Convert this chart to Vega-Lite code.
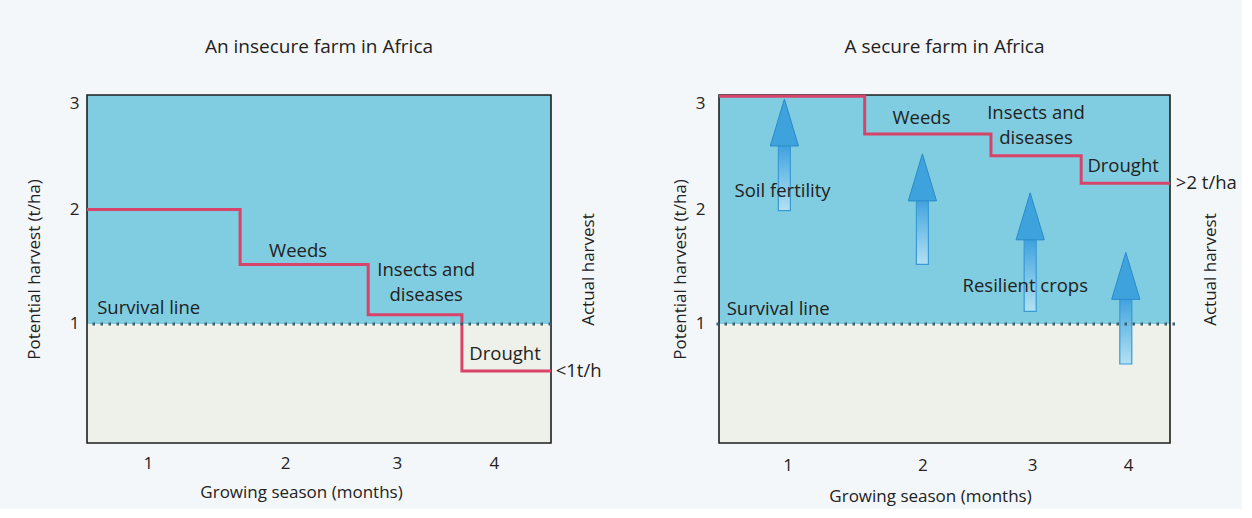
{
  "$schema": "https://vega.github.io/schema/vega-lite/v6.json",
  "background": "#f4f7f9",
  "padding": {"left": 25, "top": 38, "right": 5, "bottom": 5},
  "config": {
    "view": {"stroke": null},
    "font": "Open Sans",
    "axis": {"labelFont": "Open Sans", "titleFont": "Open Sans", "labelColor": "#222", "titleColor": "#222", "titleFontWeight": "normal", "grid": false, "ticks": false, "domain": false},
    "title": {"font": "Open Sans", "fontSize": 19, "fontWeight": "normal", "color": "#222", "baseline": "bottom", "offset": 37, "anchor": "middle", "frame": "group"}
  },
  "datasets": {
    "zones": [
      {"x0": 0, "x1": 100, "y0": 1, "y1": 3, "zone": "above"},
      {"x0": 0, "x1": 100, "y0": -0.04, "y1": 1, "zone": "below"}
    ],
    "frame": [{"x0": 0, "x1": 100, "y0": -0.04, "y1": 3}],
    "survival": [{"y": 1}],
    "stepLeft": [
      {"x": 0, "y": 2.0},
      {"x": 33.0, "y": 1.52},
      {"x": 60.6, "y": 1.08},
      {"x": 80.8, "y": 0.59},
      {"x": 100, "y": 0.59}
    ],
    "stepRight": [
      {"x": 0, "y": 2.99},
      {"x": 32.3, "y": 2.66},
      {"x": 60.3, "y": 2.47},
      {"x": 80.3, "y": 2.23},
      {"x": 100, "y": 2.23}
    ],
    "notesLeft": [
      {"x": 45.5, "y": 1.64, "label": "Weeds"},
      {"x": 73.1, "y": 1.47, "label": "Insects and\ndiseases"},
      {"x": 90.1, "y": 0.74, "label": "Drought"}
    ],
    "edgeLeft": [
      {"x": 2.2, "y": 1.14, "label": "Survival line"},
      {"x": 101, "y": 0.59, "label": "<1t/h"}
    ],
    "notesRight": [
      {"x": 44.9, "y": 2.8, "label": "Weeds"},
      {"x": 70.3, "y": 2.84, "label": "Insects and\ndiseases"},
      {"x": 89.6, "y": 2.38, "label": "Drought"},
      {"x": 14.1, "y": 2.16, "label": "Soil fertility"},
      {"x": 67.9, "y": 1.33, "label": "Resilient crops"}
    ],
    "edgeRight": [
      {"x": 1.7, "y": 1.13, "label": "Survival line"},
      {"x": 101.3, "y": 2.23, "label": ">2 t/ha"}
    ],
    "arrows": [
      {"cx": 14.5, "lo": 1.99, "hi": 2.58, "head": 2.76},
      {"cx": 45.1, "lo": 1.52, "hi": 2.11, "head": 2.28},
      {"cx": 69.0, "lo": 1.11, "hi": 1.76, "head": 1.94},
      {"cx": 90.2, "lo": 0.65, "hi": 1.25, "head": 1.42}
    ]
  },
  "hconcat": [
    {
      "width": 464,
      "height": 348,
      "title": {"text": "An insecure farm in Africa"},
      "resolve": {"axis": {"y": "independent"}},
      "layer": [
        {
          "data": {"name": "zones"},
          "mark": {"type": "rect"},
          "encoding": {
            "x": {"field": "x0", "type": "quantitative", "scale": {"domain": [0, 100], "nice": false, "zero": false},
              "axis": {"values": [13.1, 42.7, 66.8, 87.7], "labelExpr": "datum.value < 25 ? '1' : datum.value < 55 ? '2' : datum.value < 78 ? '3' : '4'", "labelFontSize": 17, "labelPadding": 12, "title": "Growing season (months)", "titleFontSize": 17, "titlePadding": 13, "titleX": 214}},
            "x2": {"field": "x1"},
            "y": {"field": "y0", "type": "quantitative", "scale": {"domain": [-0.04, 3], "nice": false, "zero": false},
              "axis": {"values": [1, 2, 3], "labelFontSize": 17, "labelPadding": 8, "labelFlush": true, "title": "Potential harvest (t/ha)", "titleFontSize": 17, "titlePadding": 26}},
            "y2": {"field": "y1"},
            "fill": {"field": "zone", "type": "nominal", "scale": {"domain": ["above", "below"], "range": ["#80cce0", "#eef1ea"]}, "legend": null}
          }
        },
        {
          "data": {"name": "frame"},
          "mark": {"type": "rect", "fill": null, "fillOpacity": 0, "stroke": "#1e1e1e", "strokeWidth": 1.6},
          "encoding": {
            "x": {"field": "x0", "type": "quantitative"},
            "x2": {"field": "x1"},
            "y": {"field": "y0", "type": "quantitative", "axis": null},
            "y2": {"field": "y1"}
          }
        },
        {
          "data": {"name": "stepLeft"},
          "mark": {"type": "line", "interpolate": "step-after", "color": "#d8436a", "strokeWidth": 3},
          "encoding": {
            "x": {"field": "x", "type": "quantitative"},
            "y": {"field": "y", "type": "quantitative", "axis": null}
          }
        },
        {
          "data": {"name": "survival"},
          "mark": {"type": "rule", "strokeDash": [2.5, 5.5], "strokeWidth": 3, "color": "#3d5e6e"},
          "encoding": {
            "y": {"field": "y", "type": "quantitative", "axis": {"orient": "right", "labels": false, "title": "Actual harvest", "titleFontSize": 17, "titleAngle": 270, "titleBaseline": "middle", "titlePadding": 37}}
          }
        },
        {
          "data": {"name": "notesLeft"},
          "mark": {"type": "text", "fontSize": 18.5, "color": "#222", "align": "center", "baseline": "middle", "lineBreak": "\n", "lineHeight": 25},
          "encoding": {
            "x": {"field": "x", "type": "quantitative"},
            "y": {"field": "y", "type": "quantitative", "axis": null},
            "text": {"field": "label"}
          }
        },
        {
          "data": {"name": "edgeLeft"},
          "mark": {"type": "text", "fontSize": 18.5, "color": "#222", "align": "left", "baseline": "middle"},
          "encoding": {
            "x": {"field": "x", "type": "quantitative"},
            "y": {"field": "y", "type": "quantitative", "axis": null},
            "text": {"field": "label"}
          }
        }
      ]
    },
    {
      "width": 461,
      "height": 348,
      "title": {"text": "A secure farm in Africa", "offset": 33},
      "resolve": {"axis": {"y": "independent"}},
      "layer": [
        {
          "data": {"name": "zones"},
          "mark": {"type": "rect"},
          "encoding": {
            "x": {"field": "x0", "type": "quantitative", "scale": {"domain": [0, 100], "nice": false, "zero": false},
              "axis": {"values": [15.2, 45.1, 69.4, 90.7], "labelExpr": "datum.value < 25 ? '1' : datum.value < 55 ? '2' : datum.value < 78 ? '3' : '4'", "labelFontSize": 17, "labelPadding": 14, "title": "Growing season (months)", "titleFontSize": 17, "titlePadding": 15, "titleX": 216}},
            "x2": {"field": "x1"},
            "y": {"field": "y0", "type": "quantitative", "scale": {"domain": [-0.04, 3], "nice": false, "zero": false},
              "axis": {"values": [1, 2, 3], "labelFontSize": 17, "labelPadding": 9, "labelFlush": true, "title": "Potential harvest (t/ha)", "titleFontSize": 17, "titlePadding": 6}},
            "y2": {"field": "y1"},
            "fill": {"field": "zone", "type": "nominal", "scale": {"domain": ["above", "below"], "range": ["#80cce0", "#eef1ea"]}, "legend": null}
          }
        },
        {
          "data": {"name": "frame"},
          "mark": {"type": "rect", "fill": null, "fillOpacity": 0, "stroke": "#1e1e1e", "strokeWidth": 1.6},
          "encoding": {
            "x": {"field": "x0", "type": "quantitative"},
            "x2": {"field": "x1"},
            "y": {"field": "y0", "type": "quantitative", "axis": null},
            "y2": {"field": "y1"}
          }
        },
        {
          "data": {"name": "arrows"},
          "mark": {"type": "bar", "width": 12, "fill": {"gradient": "linear", "x1": 0, "y1": 1, "x2": 0, "y2": 0, "stops": [{"offset": 0, "color": "#b3e1f2"}, {"offset": 0.6, "color": "#6bbbe6"}, {"offset": 1, "color": "#3a9edc"}]}, "stroke": "#3a9ad6", "strokeWidth": 1.2},
          "encoding": {
            "x": {"field": "cx", "type": "quantitative"},
            "y": {"field": "lo", "type": "quantitative", "axis": null},
            "y2": {"field": "hi"}
          }
        },
        {
          "data": {"name": "arrows"},
          "mark": {"type": "point", "shape": "M-0.6,1L0,-1L0.6,1Z", "size": 2209, "filled": true, "fill": "#3ea3dd", "stroke": "#2a8acb", "strokeWidth": 1, "opacity": 1},
          "encoding": {
            "x": {"field": "cx", "type": "quantitative"},
            "y": {"field": "head", "type": "quantitative", "axis": null}
          }
        },
        {
          "data": {"name": "stepRight"},
          "mark": {"type": "line", "interpolate": "step-after", "color": "#d8436a", "strokeWidth": 3},
          "encoding": {
            "x": {"field": "x", "type": "quantitative"},
            "y": {"field": "y", "type": "quantitative", "axis": null}
          }
        },
        {
          "data": {"name": "survival"},
          "mark": {"type": "rule", "strokeDash": [2.5, 5.5], "strokeWidth": 3, "color": "#3d5e6e"},
          "encoding": {
            "y": {"field": "y", "type": "quantitative", "axis": {"orient": "right", "labels": false, "title": "Actual harvest", "titleFontSize": 17, "titleAngle": 270, "titleBaseline": "middle", "titlePadding": 35}}
          }
        },
        {
          "data": {"name": "notesRight"},
          "mark": {"type": "text", "fontSize": 18.5, "color": "#222", "align": "center", "baseline": "middle", "lineBreak": "\n", "lineHeight": 25},
          "encoding": {
            "x": {"field": "x", "type": "quantitative"},
            "y": {"field": "y", "type": "quantitative", "axis": null},
            "text": {"field": "label"}
          }
        },
        {
          "data": {"name": "edgeRight"},
          "mark": {"type": "text", "fontSize": 18.5, "color": "#222", "align": "left", "baseline": "middle"},
          "encoding": {
            "x": {"field": "x", "type": "quantitative"},
            "y": {"field": "y", "type": "quantitative", "axis": null},
            "text": {"field": "label"}
          }
        }
      ]
    }
  ],
  "spacing": 163,
  "bounds": "flush"
}
